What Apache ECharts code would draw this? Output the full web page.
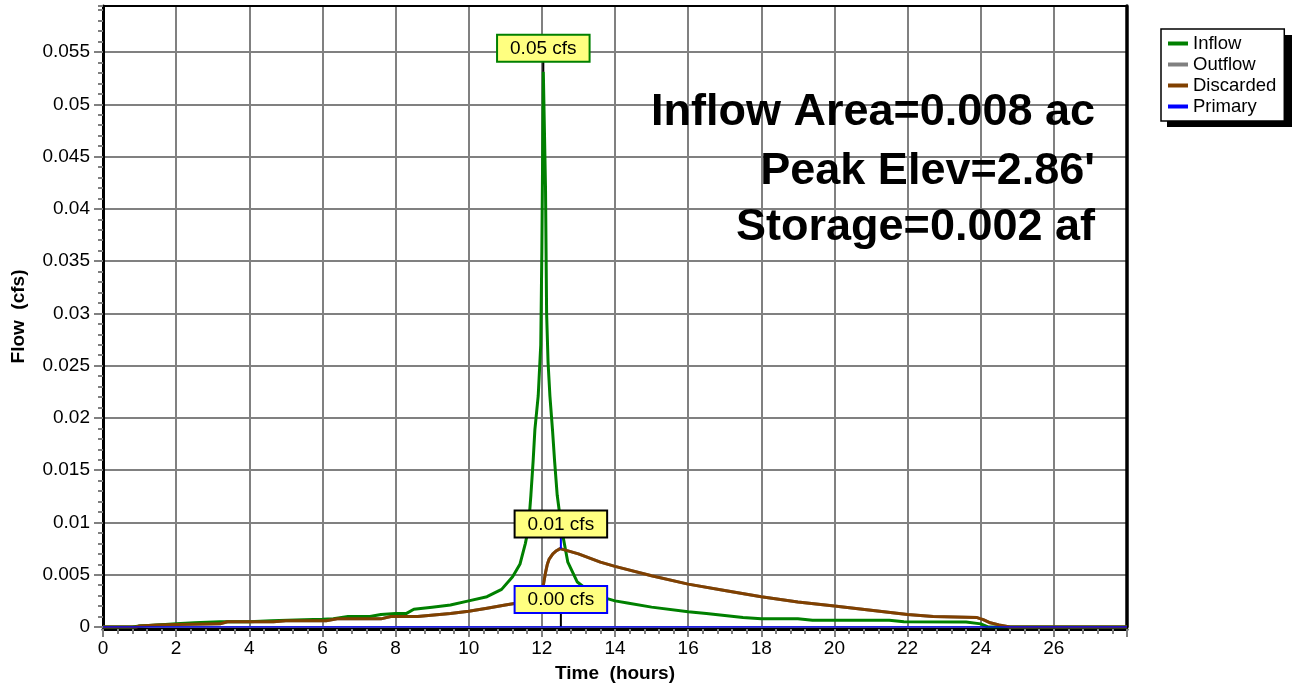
<!DOCTYPE html>
<html><head><meta charset="utf-8">
<script src="https://cdn.jsdelivr.net/npm/echarts@6/dist/echarts.min.js"></script>
<style>html,body{margin:0;padding:0;background:#fff}#c{width:1294px;height:684px}</style>
</head><body><div id="c"></div>
<script>
// ---- data ----
const inflowTimes = [0,0.8,1.0,1.5,2.0,2.5,3.2,4.0,4.6,5.5,6.0,6.3,6.7,7.3,7.6,8.0,8.3,8.5,9.0,9.5,10.0,10.5,10.9,11.2,11.4,11.55,11.63,11.7,11.76,11.81,11.9,11.97,12.0,12.04,12.1,12.13,12.17,12.22,12.29,12.35,12.42,12.54,12.71,12.97,13.3,13.6,14.0,14.34,15.0,16.0,16.5,17.0,17.5,18.0,19.0,19.4,21.5,21.9,23.6,24.0,24.2,28];
const inflowFlows = [0,0,0.0001,0.0002,0.0003,0.0004,0.0005,0.0005,0.0006,0.0007,0.00075,0.0008,0.001,0.001,0.0012,0.0013,0.0013,0.0017,0.0019,0.0021,0.0025,0.0029,0.0036,0.0048,0.0060,0.0080,0.0094,0.0126,0.0158,0.0189,0.0221,0.0270,0.0360,0.0531,0.0420,0.0300,0.0253,0.0221,0.0189,0.0158,0.0126,0.0094,0.0062,0.0043,0.0034,0.0029,0.0025,0.0023,0.0019,0.00145,0.0013,0.0011,0.0009,0.0008,0.0008,0.00065,0.00065,0.0005,0.00048,0.0003,0,0];
const discardedTimes = [0,0.9,1.0,1.5,2.0,3.2,3.4,4.66,5.0,6.1,6.4,7.6,7.87,8.6,9.2,9.5,10.0,10.5,11.0,11.5,11.95,12.0,12.05,12.1,12.15,12.2,12.3,12.4,12.5,13.0,13.6,14.0,15.0,16.0,17.0,18.0,19.0,20.0,21.0,22.0,22.7,23.9,24.07,24.26,24.5,24.8,28];
const discardedFlows = [0,0,0.0001,0.0002,0.00024,0.0003,0.0005,0.0005,0.0006,0.0006,0.00078,0.00078,0.001,0.001,0.0012,0.0013,0.0015,0.0018,0.0021,0.0024,0.0029,0.0033,0.0042,0.0052,0.0060,0.0065,0.0070,0.0073,0.0075,0.0070,0.0062,0.0058,0.0049,0.0041,0.0035,0.0029,0.0024,0.0020,0.0016,0.0012,0.0010,0.0009,0.0007,0.0004,0.0002,0,0];
const outflowTimes = discardedTimes;
const outflowFlows = [0,0,0.0001,0.0002,0.00024,0.0003,0.0005,0.0005,0.0006,0.0006,0.00078,0.00078,0.001,0.001,0.0012,0.0013,0.0015,0.0018,0.0021,0.0024,0.0029,0.0033,0.0042,0.0052,0.0060,0.0065,0.0070,0.0073,0.0075,0.0070,0.0062,0.0058,0.0049,0.0041,0.0035,0.0029,0.0024,0.0020,0.0016,0.0012,0.0010,0.0009,0.0007,0.0004,0.0002,0,0];
const primaryTimes = [0,12.52,28];
const primaryFlows = [0,0,0];
const peakInflow = {t:12.04, v:0.0531};
const peakOutflow = {t:12.52, v:0.0075};
const peakPrimary = {t:12.52, v:0};
const annotations = ['Inflow Area=0.008 ac', "Peak Elev=2.86'", 'Storage=0.002 af'];
const legendNames = ['Inflow','Outflow','Discarded','Primary'];

const FONT = '"Liberation Sans", Arial, sans-serif';
const pairs = (ts, vs) => ts.map((t, i) => [t, vs[i]]);
const boxLabel = (text, border) => ({
  show: true, position: 'top', distance: 0, formatter: text,
  backgroundColor: '#ffff80', borderColor: border, borderWidth: 2,
  padding: [3, 12, 2, 12], fontSize: 19, lineHeight: 20, color: '#000', fontFamily: FONT
});
const pin = (p, text, border, leader, len) => ({
  symbol: 'rect', symbolSize: [2, len], symbolOffset: [0, -len / 2],
  itemStyle: { color: leader }, silent: true,
  label: boxLabel(text, border),
  data: [{ coord: [p.t, p.v] }]
});

const chart = echarts.init(document.getElementById('c'), null, { renderer: 'canvas' });
const gray = '#808080';
chart.setOption({
  animation: false,
  backgroundColor: '#fff',
  textStyle: { fontFamily: FONT },
  grid: { left: 103, right: 167, top: 6, bottom: 57, show: false, containLabel: false, outerBoundsMode: 'none' },
  legend: {
    orient: 'vertical', left: 1161, top: 29, data: legendNames, z: 10,
    icon: 'rect', itemWidth: 20, itemHeight: 4, itemGap: 2,
    padding: [5, 8, 5, 7],
    backgroundColor: '#fff', borderColor: '#000', borderWidth: 1.5,
    textStyle: { fontSize: 18.5, lineHeight: 19, color: '#000', fontFamily: FONT }
  },
  xAxis: [{
    type: 'value', min: 0, max: 28, interval: 2, position: 'bottom', offset: 2,
    name: 'Time  (hours)', nameLocation: 'middle', nameGap: 35,
    nameTextStyle: { fontWeight: 'bold', fontSize: 19, color: '#000', fontFamily: FONT },
    axisLine: { show: true, onZero: false, lineStyle: { color: '#000', width: 3 } },
    axisTick: { show: true, length: 8, lineStyle: { color: gray, width: 2 } },
    minorTick: { show: true, splitNumber: 5, length: 5, lineStyle: { color: gray, width: 2 } },
    axisLabel: { fontSize: 19, color: '#000', margin: 10, fontFamily: FONT,
      formatter: v => (v >= 28 ? '' : String(v)) },
    splitLine: { show: true, lineStyle: { color: gray, width: 2 } }
  }, {
    type: 'value', min: 0, max: 28, position: 'top',
    axisLine: { show: true, onZero: false, lineStyle: { color: '#000', width: 2 } },
    axisTick: { show: false }, axisLabel: { show: false }, splitLine: { show: false }
  }],
  yAxis: [{
    type: 'value', min: 0, max: 0.0594, interval: 0.005, position: 'left',
    name: 'Flow  (cfs)', nameLocation: 'middle', nameGap: 75,
    nameTextStyle: { fontWeight: 'bold', fontSize: 19, color: '#000', fontFamily: FONT },
    axisLine: { show: true, onZero: false, lineStyle: { color: '#000', width: 3 } },
    axisTick: { show: true, length: 9, lineStyle: { color: gray, width: 2 } },
    axisLabel: { fontSize: 19, color: '#000', margin: 13, fontFamily: FONT, showMaxLabel: false,
      formatter: v => { const k = v / 0.005; return Math.abs(k - Math.round(k)) < 1e-6 ? String(+v.toFixed(3)) : ''; } },
    splitLine: { show: true, lineStyle: { color: gray, width: 2 } }
  }, {
    type: 'value', min: 0, max: 0.0594, interval: 0.001, position: 'left',
    axisLine: { show: false }, axisLabel: { show: false }, splitLine: { show: false },
    axisTick: { show: true, length: 5, lineStyle: { color: gray, width: 2 } }
  }, {
    type: 'value', min: 0, max: 0.0594, position: 'right',
    axisLine: { show: true, onZero: false, lineStyle: { color: '#000', width: 3.5 } },
    axisTick: { show: false }, axisLabel: { show: false }, splitLine: { show: false }
  }],
  series: [
    { name: 'Outflow', type: 'line', data: pairs(outflowTimes, outflowFlows), color: gray,
      symbol: 'none', lineStyle: { width: 3, color: gray }, z: 2 },
    { name: 'Inflow', type: 'line', data: pairs(inflowTimes, inflowFlows), color: '#008000',
      symbol: 'none', lineStyle: { width: 3, color: '#008000' }, z: 3,
      markPoint: pin(peakInflow, peakInflow.v.toFixed(2) + ' cfs', '#008000', '#000', 11) },
    { name: 'Discarded', type: 'line', data: pairs(discardedTimes, discardedFlows), color: '#804000',
      symbol: 'none', lineStyle: { width: 3, color: '#804000' }, z: 4,
      markPoint: pin(peakOutflow, peakOutflow.v.toFixed(2) + ' cfs', '#000', '#0000ff', 12) },
    { name: 'Primary', type: 'line', data: pairs(primaryTimes, primaryFlows), color: '#0000ff',
      symbol: 'none', lineStyle: { width: 1.5, color: '#0000ff' }, z: 5,
      markPoint: pin(peakPrimary, peakPrimary.v.toFixed(2) + ' cfs', '#0000ff', '#000', 15) }
  ],
  graphic: [{
    type: 'rect', z: 1, silent: true,
    shape: { x: 1167, y: 35, width: 125, height: 92 },
    style: { fill: '#000' }
  }].concat(annotations.map((s, i) => ({
    type: 'text', x: 1095, y: [113, 172, 228][i], z: 100,
    style: { text: s, align: 'right', verticalAlign: 'middle', fill: '#000',
      font: 'bold 45px "Liberation Sans", Arial, sans-serif' }
  })))
});
</script></body></html>
